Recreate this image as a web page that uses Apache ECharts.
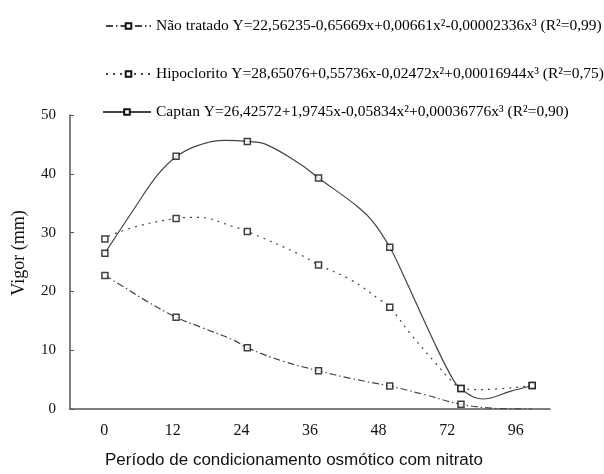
<!DOCTYPE html>
<html>
<head>
<meta charset="utf-8">
<script src="https://cdn.jsdelivr.net/npm/echarts@6/dist/echarts.min.js"></script>
<style>
  html, body { margin: 0; padding: 0; background: #fff; }
  #chart { width: 604px; height: 474px; }
</style>
</head>
<body>
<div id="chart"></div>
<script>
// Periods (h) on the x axis
const periods = ["0", "12", "24", "36", "48", "72", "96"];

// Legend names
const nameNao = "Não tratado Y=22,56235-0,65669x+0,00661x²-0,00002336x³ (R²=0,99)";
const nameHipo = "Hipoclorito Y=28,65076+0,55736x-0,02472x²+0,00016944x³ (R²=0,75)";
const nameCaptan = "Captan Y=26,42572+1,9745x-0,05834x²+0,00036776x³ (R²=0,90)";

// Observed means (markers), one per period
const naoTratado = [22.7, 15.6, 10.4, 6.5, 3.9, 0.8, null];
const hipoclorito = [28.9, 32.4, 30.2, 24.5, 17.3, 3.5, 4.0];
const captan = [26.5, 43.0, 45.5, 39.3, 27.5, 3.5, 4.0];

// Fitted curves: [period index, vigor]
const naoCurve = [[0, 22.7], [0.3, 20.5], [0.55, 18.6], [1, 15.6], [1.35, 13.9], [1.81, 11.7],
  [2, 10.4], [2.51, 8.1], [3, 6.5], [3.45, 5.2], [4, 3.9], [4.47, 2.5], [5, 0.8], [5.52, 0.1], [6, 0]];
const hipoCurve = [[0.05, 29.4], [0.43, 31.0], [1, 32.4], [1.3, 32.6], [1.81, 31.0], [2, 30.2],
  [2.75, 26.2], [3, 24.5], [3.45, 22.0], [3.87, 18.5], [4, 17.3], [4.29, 12.8], [4.65, 7.7],
  [4.85, 5.0], [5, 3.6], [5.27, 3.3], [6, 4.0]];
const captanCurve = [[0, 26.5], [0.43, 34.4], [0.74, 39.8], [1, 42.9], [1.3, 44.8], [1.7, 45.7],
  [2, 45.5], [2.26, 45.0], [2.75, 41.6], [3, 39.3], [3.55, 34.4], [3.76, 31.9], [4, 27.5],
  [4.19, 22.8], [4.61, 11.7], [4.89, 5.0], [5.02, 3.2], [5.31, 1.7], [5.69, 3.0], [6, 4.0]];

const chart = echarts.init(document.getElementById("chart"));

const serif = '"Liberation Serif", "Times New Roman", serif';
const lineColor = "#444";
const markerStyle = { color: "#fff", borderColor: "#111", borderWidth: 1.5 };

function curveSeries(name, data, type) {
  return {
    name: name,
    type: "line",
    xAxisIndex: 1,
    smooth: 0.4,
    symbol: "rect",
    showSymbol: false,
    data: data,
    lineStyle: { color: lineColor, width: 1.2, type: type },
    itemStyle: markerStyle,
    silent: true,
  };
}

function markerSeries(values) {
  return {
    type: "scatter",
    xAxisIndex: 1,
    symbol: "rect",
    symbolSize: 6,
    itemStyle: markerStyle,
    data: values.map((v, i) => (v === null ? null : [i, v])),
    z: 5,
  };
}

function legendRow(name, left, top, width) {
  return {
    data: [name],
    left: left,
    top: top,
    itemWidth: width,
    itemHeight: 7,
    textStyle: { fontFamily: serif, fontSize: 15.5, color: "#000" },
    selectedMode: false,
  };
}

const option = {
  animation: false,
  legend: [
    legendRow(nameNao, 100, 13, 45),
    legendRow(nameHipo, 100, 61, 45),
    legendRow(nameCaptan, 97, 99, 48),
  ],
  grid: { left: 70, right: 54, top: 115, bottom: 61 },
  xAxis: [
    {
      type: "category",
      data: periods,
      boundaryGap: true,
      name: "Período de condicionamento osmótico com nitrato",
      nameLocation: "middle",
      nameGap: 43,
      nameTextStyle: {
        fontFamily: '"Liberation Sans", Arial, sans-serif',
        fontSize: 17,
        color: "#111",
        padding: [0, 32, 0, 0],
      },
      axisLine: { lineStyle: { color: "#555", width: 1.5 } },
      axisTick: { inside: true, length: 4, lineStyle: { color: "#555" } },
      axisLabel: { fontFamily: serif, fontSize: 16, color: "#111", margin: 14 },
    },
    {
      type: "value",
      min: -0.49,
      max: 6.25,
      show: false,
    },
  ],
  yAxis: {
    type: "value",
    min: 0,
    max: 50,
    interval: 10,
    name: "Vigor (mm)",
    nameLocation: "middle",
    nameGap: 42,
    nameTextStyle: {
      fontFamily: serif,
      fontSize: 18,
      color: "#111",
      padding: [0, 0, 0, 18],
    },
    axisLine: { show: true, onZero: false, lineStyle: { color: "#555", width: 1.5 } },
    axisTick: { show: true, inside: true, length: 4, lineStyle: { color: "#555" } },
    axisLabel: { fontFamily: serif, fontSize: 15, color: "#111", margin: 14 },
    splitLine: { show: false },
  },
  series: [
    curveSeries(nameNao, naoCurve, [7, 3, 1.5, 3]),
    curveSeries(nameHipo, hipoCurve, [2, 5]),
    curveSeries(nameCaptan, captanCurve, "solid"),
    markerSeries(naoTratado),
    markerSeries(hipoclorito),
    markerSeries(captan),
  ],
};

chart.setOption(option);
</script>
</body>
</html>
